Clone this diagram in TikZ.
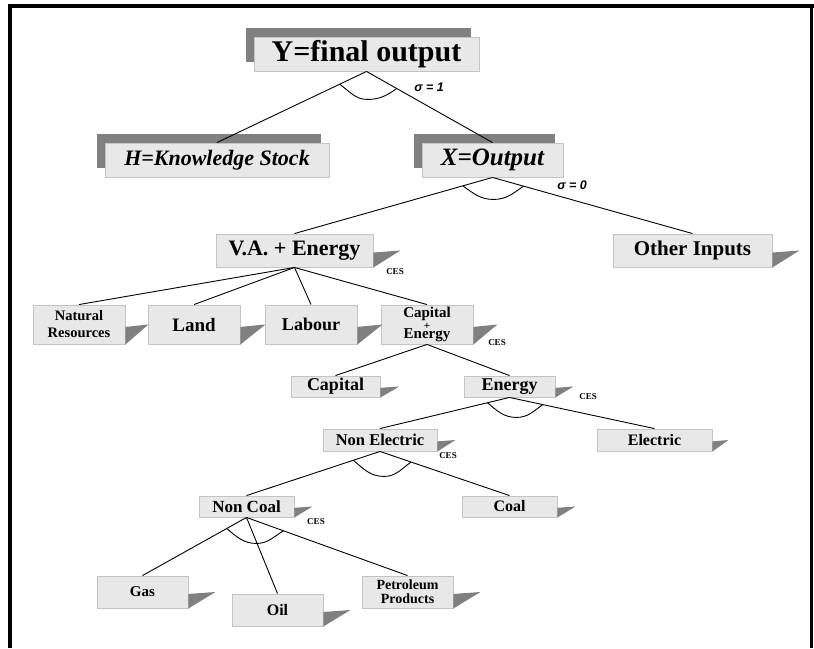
\documentclass[tikz,border=0pt]{standalone}
\usepackage{fontspec}
\setmainfont{Liberation Serif}
\newfontfamily\sigfont{Liberation Sans}
\usetikzlibrary{calc,backgrounds}
\definecolor{boxfill}{HTML}{E8E8E8}
\definecolor{boxline}{HTML}{C4C4C4}
\definecolor{shd}{HTML}{808080}
\newcommand\fsz[2]{\fontsize{#1}{#2}\selectfont}
\newcommand\boxwedge[2]{%
  \fill[shd] ($(#1.north east)!0.56!(#1.south east)$) -- ($($(#1.north east)!0.5!(#1.south east)$)+(#2,0)$) -- (#1.south east) -- cycle;}
\newcommand\topshadow[1]{%
  \fill[shd] ($(#1.south west)+(-8,-9)$) rectangle ($(#1.north east)+(-8,-9)$);}
\begin{document}
\begin{tikzpicture}[x=1pt,y=-1pt,
  box/.style={draw=boxline, fill=boxfill, line width=0.9pt, inner sep=0pt, align=center},
  conn/.style={draw=black, line width=0.9pt},
  ces/.style={font=\bfseries\fsz{9}{9}, inner sep=0pt},
  sig/.style={font=\sigfont\bfseries\itshape\fsz{12.5}{12.5}, inner sep=0pt}]
\useasboundingbox (0,0) rectangle (814,648);
% frame
\draw[line width=3.5pt] (10,648) -- (10,6) -- (814,6);
\draw[line width=2.5pt] (811.5,6) -- (811.5,648);
% top boxes
\node[box, minimum width=225, minimum height=34, font=\bfseries\fsz{30}{30}] (Y) at (366.5,54) {Y=final output};
\node[box, minimum width=224, minimum height=34, font=\bfseries\itshape\fsz{22}{22}] (H) at (217,160) {H=Knowledge Stock};
\node[box, minimum width=141, minimum height=34, font=\bfseries\itshape\fsz{25}{25}] (X) at (492.5,160) {X=Output};
\begin{scope}[on background layer]
\topshadow{Y}\topshadow{H}\topshadow{X}
\end{scope}
% second level
\node[box, minimum width=157, minimum height=33, font=\bfseries\fsz{22}{22}] (VA) at (294.5,250.5) {V.A. + Energy};
\node[box, minimum width=159, minimum height=33, font=\bfseries\fsz{21}{21}] (OI) at (692.5,250.5) {Other Inputs};
% third level
\node[box, minimum width=92, minimum height=39, font=\bfseries\fsz{14.5}{17}] (NR) at (79,324.5) {Natural\\Resources};
\node[box, minimum width=92, minimum height=39, font=\bfseries\fsz{19}{19}] (LA) at (194,324.5) {Land};
\node[box, minimum width=92, minimum height=39, font=\bfseries\fsz{18}{18}] (LB) at (311,324.5) {Labour};
\node[box, minimum width=92, minimum height=39, font=\bfseries\fsz{15}{15}] (CE) at (427,324.5) {Capital\\[-3pt]{\fsz{11}{11}+}\\[-6pt]Energy};
% fourth level
\node[box, minimum width=89, minimum height=21, font=\bfseries\fsz{18}{18}] (CA) at (335.5,386.5) {Capital};
\node[box, minimum width=91, minimum height=21, font=\bfseries\fsz{18}{18}] (EN) at (509.5,386.5) {Energy};
% fifth level
\node[box, minimum width=114, minimum height=22, font=\bfseries\fsz{16.5}{16.5}] (NE) at (380,440) {Non Electric};
\node[box, minimum width=115, minimum height=22, font=\bfseries\fsz{16}{16}] (EL) at (654.5,440) {Electric};
% sixth level
\node[box, minimum width=95, minimum height=21, font=\bfseries\fsz{17}{17}] (NC) at (246.5,506.5) {Non Coal};
\node[box, minimum width=95, minimum height=21, font=\bfseries\fsz{16}{16}] (CO) at (509.5,506.5) {Coal};
% seventh level
\node[box, minimum width=91, minimum height=32, font=\bfseries\fsz{15}{15}] (GA) at (142.5,592) {Gas};
\node[box, minimum width=91, minimum height=32, font=\bfseries\fsz{16}{16}] (OL) at (277.5,610) {Oil};
\node[box, minimum width=91, minimum height=32, font=\bfseries\fsz{14}{14}] (PP) at (407.5,592) {Petroleum\\Products};
% wedge shadows
\boxwedge{VA}{27}\boxwedge{OI}{27}
\boxwedge{NR}{23}\boxwedge{LA}{25}\boxwedge{LB}{25}\boxwedge{CE}{24}
\boxwedge{CA}{19}\boxwedge{EN}{18}
\boxwedge{NE}{18}\boxwedge{EL}{16}
\boxwedge{NC}{18}\boxwedge{CO}{18}
\boxwedge{GA}{27}\boxwedge{OL}{27}\boxwedge{PP}{27}
% connectors
\draw[conn] (Y.south) -- (H.north);
\draw[conn] (Y.south) -- (X.north);
\draw[conn] (X.south) -- (VA.north);
\draw[conn] (X.south) -- (OI.north);
\draw[conn] (VA.south) -- (NR.north);
\draw[conn] (VA.south) -- (LA.north);
\draw[conn] (VA.south) -- (LB.north);
\draw[conn] (VA.south) -- (CE.north);
\draw[conn] (CE.south) -- (CA.north);
\draw[conn] (CE.south) -- (EN.north);
\draw[conn] (EN.south) -- (NE.north);
\draw[conn] (EN.south) -- (EL.north);
\draw[conn] (NE.south) -- (NC.north);
\draw[conn] (NE.south) -- (CO.north);
\draw[conn] (NC.south) -- (GA.north);
\draw[conn] (NC.south) -- (OL.north);
\draw[conn] (NC.south) -- (PP.north);
% substitution arcs
\draw[conn] ($(Y.south)!0.18!(H.north)$) to[out=-35,in=180] ($(Y.south)+(1,28)$) to[out=0,in=-145] ($(Y.south)!0.24!(X.north)$);
\draw[conn] ($(X.south)!0.15!(VA.north)$) to[out=-35,in=180] ($(X.south)+(1,22)$) to[out=0,in=-145] ($(X.south)!0.155!(OI.north)$);
\draw[conn] ($(EN.south)!0.17!(NE.north)$) to[out=-40,in=180] ($(EN.south)+(7,20)$) to[out=0,in=-145] ($(EN.south)!0.23!(EL.north)$);
\draw[conn] ($(NE.south)!0.2!(NC.north)$) to[out=-40,in=180] ($(NE.south)+(4,25)$) to[out=0,in=-145] ($(NE.south)!0.24!(CO.north)$);
\draw[conn] ($(NC.south)!0.19!(GA.north)$) to[out=-40,in=180] ($(NC.south)+(10,26)$) to[out=0,in=-150] ($(NC.south)!0.23!(PP.north)$);
% labels
\node[sig] (s1) at (429,87) {σ = 1};
\node[sig] (s0) at (572,185) {σ = 0};
\node[ces] (c1) at (395,272) {CES};
\node[ces] (c2) at (497,343) {CES};
\node[ces] (c3) at (588,397) {CES};
\node[ces] (c4) at (448,456) {CES};
\node[ces] (c5) at (316,522) {CES};
\end{tikzpicture}
\end{document}
